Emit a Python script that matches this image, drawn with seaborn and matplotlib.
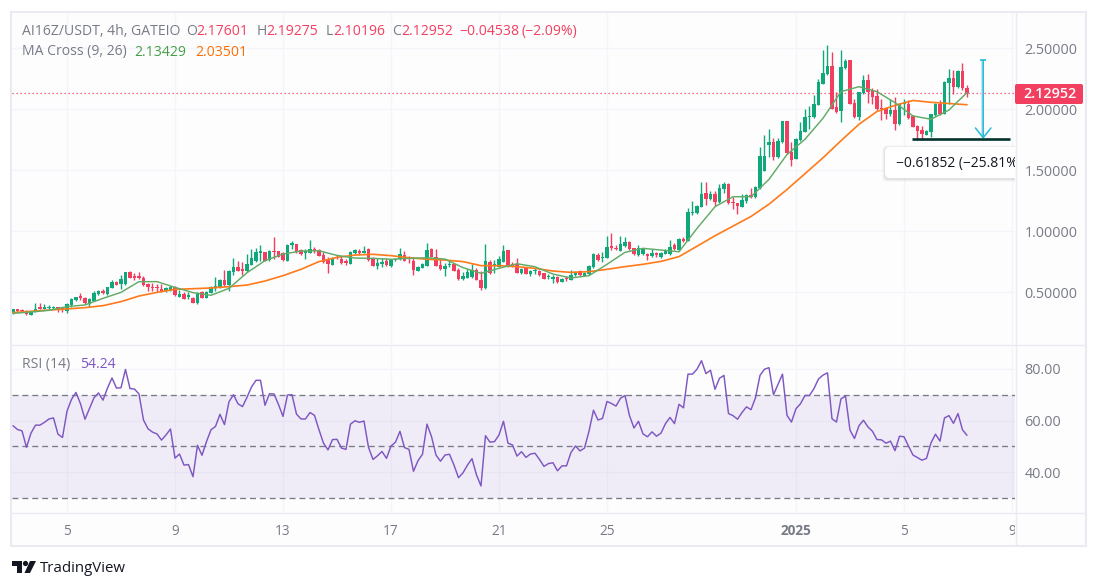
import numpy as np
import pandas as pd
import seaborn as sns
import matplotlib
matplotlib.use("Agg")
import matplotlib.pyplot as plt
from matplotlib.patches import Rectangle, FancyBboxPatch, Circle, Polygon
from matplotlib.transforms import Affine2D, Bbox, TransformedBbox

# ---------- data ----------
opens = [.325,.350,.350,.344,.314,.339,.369,.363,.366,.369,.374,.366,.342,.391,.432,.467,.454,.404,.429,.481,
 .508,.481,.530,.585,.563,.563,.667,.634,.623,.612,.568,.538,.535,.527,.508,.514,.541,.459,.484,.462,
 .454,.407,.497,.451,.492,.541,.535,.598,.557,.664,.705,.680,.672,.724,.751,.822,.825,.762,.836,.833,
 .817,.757,.888,.893,.844,.822,.819,.850,.841,.806,.762,.724,.784,.773,.746,.729,.817,.828,.822,.855,
 .773,.713,.732,.751,.716,.762,.768,.803,.776,.757,.675,.699,.716,.849,.784,.721,.691,.718,.732,.683,
 .604,.617,.623,.680,.598,.530,.748,.710,.707,.748,.844,.727,.729,.656,.697,.650,.672,.672,.653,.620,
 .609,.626,.582,.612,.601,.639,.672,.634,.645,.702,.803,.776,.781,.869,.858,.839,.880,.913,.858,.803,
 .809,.811,.795,.820,.787,.814,.809,.885,.842,.931,.920,1.147,1.144,1.196,1.311,1.259,1.303,1.234,1.344,1.385,
 1.237,1.229,1.196,1.248,1.294,1.278,1.349,1.495,1.707,1.729,1.606,1.729,1.900,1.647,1.589,1.745,1.813,1.933,1.931,2.032,
 2.209,2.285,2.351,2.015,1.980,2.335,2.400,2.051,1.931,2.133,2.236,2.154,2.108,2.002,2.010,1.958,1.993,1.876,2.040,2.040,
 1.941,1.860,1.827,1.791,1.813,1.950,2.037,1.963,2.212,2.255,2.180,2.310,2.17601]
highs = [.361,.361,.361,.353,.339,.413,.413,.404,.391,.385,.377,.377,.413,.454,.462,.495,.456,.448,.505,.514,
 .522,.544,.601,.590,.639,.667,.672,.653,.661,.634,.574,.571,.568,.566,.541,.552,.546,.514,.503,.503,
 .462,.500,.508,.505,.546,.623,.604,.677,.680,.781,.751,.743,.808,.855,.860,.885,.828,.844,.950,.839,
 .828,.896,.918,.896,.852,.849,.926,.871,.849,.830,.784,.784,.803,.798,.770,.833,.849,.852,.880,.863,
 .784,.776,.778,.781,.768,.781,.860,.836,.792,.789,.713,.735,.901,.858,.852,.781,.740,.754,.740,.699,
 .667,.688,.729,.694,.675,.893,.759,.765,.792,.885,.847,.748,.778,.697,.699,.680,.699,.680,.658,.650,
 .639,.628,.612,.634,.677,.675,.677,.667,.719,.820,.822,.830,.956,.981,.885,.959,.954,.918,.861,.885,
 .863,.817,.852,.830,.825,.852,.926,.900,.940,.950,1.188,1.245,1.210,1.401,1.401,1.327,1.327,1.382,1.401,1.390,
 1.275,1.232,1.303,1.303,1.352,1.368,1.688,1.783,1.835,1.759,1.759,1.903,1.903,1.729,1.759,1.892,2.004,2.021,2.113,2.242,
 2.482,2.523,2.468,2.141,2.482,2.408,2.403,2.086,2.143,2.277,2.285,2.173,2.163,2.078,2.018,2.086,2.100,2.051,2.086,2.072,
 1.950,1.865,1.860,1.827,1.963,2.051,2.072,2.228,2.332,2.318,2.318,2.376,2.19275]
lows = [.317,.333,.333,.309,.314,.333,.361,.358,.358,.358,.339,.339,.328,.380,.429,.434,.404,.374,.426,.475,
 .481,.475,.530,.555,.522,.560,.612,.601,.606,.552,.511,.511,.503,.497,.503,.508,.465,.456,.443,.440,
 .410,.402,.448,.448,.489,.511,.533,.552,.511,.639,.672,.639,.667,.718,.746,.757,.754,.757,.768,.784,
 .757,.751,.855,.822,.800,.768,.817,.817,.792,.735,.656,.718,.770,.732,.724,.727,.811,.806,.819,.757,
 .710,.688,.707,.716,.705,.754,.762,.751,.740,.639,.672,.697,.713,.784,.713,.677,.634,.707,.672,.601,
 .601,.612,.617,.596,.516,.527,.647,.653,.705,.743,.705,.705,.656,.650,.645,.634,.645,.634,.606,.609,
 .571,.574,.579,.593,.598,.634,.628,.628,.639,.697,.757,.743,.776,.842,.842,.833,.872,.847,.803,.798,
 .803,.762,.790,.787,.781,.809,.803,.845,.836,.907,.920,1.128,1.139,1.193,1.213,1.253,1.204,1.232,1.308,1.221,
 1.180,1.139,1.193,1.232,1.273,1.273,1.344,1.489,1.608,1.581,1.600,1.718,1.630,1.532,1.587,1.739,1.810,1.840,1.928,2.029,
 2.206,2.280,1.996,1.969,1.895,2.332,2.037,1.925,1.909,2.127,2.051,2.045,1.991,1.914,1.917,1.941,1.827,1.870,1.950,1.922,
 1.849,1.750,1.750,1.786,1.772,1.941,1.950,1.958,2.045,2.122,2.173,2.154,2.10196]
closes = [.361,.345,.344,.320,.339,.361,.363,.369,.372,.372,.353,.361,.402,.445,.459,.448,.410,.443,.489,.508,
 .489,.538,.579,.557,.604,.664,.617,.617,.617,.557,.538,.530,.530,.511,.535,.544,.473,.484,.445,.467,
 .413,.489,.454,.500,.541,.549,.598,.557,.675,.705,.675,.675,.727,.778,.825,.828,.757,.836,.828,.789,
 .762,.888,.893,.828,.811,.830,.852,.833,.795,.746,.729,.778,.776,.738,.740,.828,.844,.822,.833,.762,
 .713,.738,.746,.721,.762,.773,.811,.757,.768,.677,.707,.729,.847,.789,.716,.686,.713,.727,.675,.606,
 .631,.667,.683,.598,.530,.754,.653,.729,.768,.838,.713,.707,.658,.691,.647,.675,.677,.639,.609,.626,
 .615,.579,.606,.606,.642,.667,.639,.658,.713,.809,.762,.781,.869,.863,.852,.891,.907,.852,.809,.863,
 .858,.795,.820,.801,.820,.844,.872,.852,.934,.920,1.155,1.155,1.204,1.303,1.264,1.303,1.240,1.352,1.385,1.226,
 1.229,1.204,1.253,1.294,1.278,1.360,1.614,1.612,1.729,1.606,1.737,1.900,1.636,1.584,1.753,1.816,1.933,1.941,2.040,2.223,
 2.294,2.351,1.999,1.974,2.343,2.392,2.040,1.931,2.138,2.236,2.141,2.100,1.996,1.996,1.958,1.993,1.876,2.045,2.045,1.928,
 1.854,1.821,1.794,1.819,1.958,2.037,1.963,2.223,2.255,2.182,2.310,2.176,2.12952]

# moving averages, read every fourth candle
ma9 = [.325,.336,.35,.38,.394,.448,.497,.585,.585,.538,.495,.473,.53,.658,.757,.811,.836,.838,.80,.778,
 .776,.768,.776,.781,.77,.70,.653,.694,.732,.707,.647,.615,.634,.727,.825,.858,.844,.83,1.021,1.199,
 1.281,1.281,1.423,1.627,1.752,1.924,2.142,2.183,2.142,2.052,1.943,1.916,1.992,2.13429]
ma26 = [.331,.342,.352,.361,.372,.388,.421,.467,.497,.522,.527,.533,.544,.557,.590,.634,.686,.749,.784,.803,
 .809,.798,.781,.768,.762,.749,.716,.716,.708,.694,.672,.661,.667,.686,.708,.727,.751,.790,.875,.961,
 1.04,1.119,1.22,1.34,1.47,1.60,1.74,1.875,1.98,2.03,2.07,2.055,2.045,2.03501]

rsi = [58.0,56.5,56.0,49.6,55.1,58.2,58.2,59.3,60.6,61.0,54.7,53.4,63.6,68.2,70.9,66.5,60.5,64.6,68.8,70.7,
 67.9,72.6,76.5,72.6,72.7,79.8,72.4,72.2,70.3,60.2,56.8,55.5,54.8,52.4,54.4,56.7,45.4,47.0,42.7,42.9,
 38.2,50.4,46.5,51.8,56.4,57.7,62.4,58.4,67.3,70.0,66.5,65.4,69.0,73.0,75.6,75.6,65.9,70.4,70.3,66.2,
 61.6,69.9,70.0,62.5,60.6,60.6,63.1,62.0,56.4,51.2,48.6,52.6,52.7,49.3,48.8,58.6,59.9,59.3,59.8,49.6,
 44.9,46.3,48.0,45.3,50.1,51.6,55.8,49.5,48.8,40.3,44.4,46.9,58.6,53.8,46.6,44.2,46.6,46.9,42.7,37.8,
 39.7,42.7,45.2,38.9,34.6,54.1,51.6,51.8,54.4,59.7,51.2,50.5,46.2,
 47.9,45.7,47.0,47.3,44.9,42.2,43.3,43.6,40.5,42.4,42.4,47.6,50.1,48.2,49.3,55.8,64.0,60.2,60.8,67.4,
 66.6,65.6,68.6,69.7,61.9,57.1,59.7,54.8,53.7,55.6,53.9,55.1,58.8,61.2,58.8,66.3,64.9,78.0,78.0,79.9,
 83.2,78.2,79.5,72.1,76.4,77.5,62.7,61.9,60.5,63.1,65.3,64.2,68.8,77.5,79.9,80.5,70.0,74.0,78.0,62.0,
 59.4,64.6,66.5,69.7,69.7,72.4,76.1,77.6,78.5,60.7,59.4,68.4,69.5,56.3,53.0,58.0,60.1,57.5,55.8,52.6,
 52.5,51.2,52.0,48.3,53.9,53.7,50.1,46.6,45.6,44.6,45.3,51.3,54.7,52.0,61.0,61.9,58.9,62.7,56.4,54.24]

price_ticks = [0.5, 1.0, 1.5, 2.0, 2.5]
rsi_ticks = [40, 60, 80]
rsi_levels = [30, 50, 70]
date_ticks = [12, 36, 60, 84, 108, 132, 174, 198, 222]
date_labels = ["5", "9", "13", "17", "21", "25", "2025", "5", "9"]
last_close = 2.12952
measure_top, measure_bottom, measure_base = 2.40, 1.775, 1.758
measure_x, base_left, base_right = 215.6, 199.8, 221.5

# ---------- style ----------
GREEN, RED = "#10a87a", "#f23f5f"
GRAY, PURPLE = "#787b86", "#7e57c2"
MA_G, MA_O = "#62ab66", "#ff7a1a"
BG, GRID, EDGE = "#fdfdfe", "#f4f5f9", "#e9eaf2"
sns.set_theme(style="white")
plt.rcParams["font.family"] = ["Open Sans", "DejaVu Sans"]

W, H = 1099, 588
fig = plt.figure(figsize=(W / 100, H / 100), dpi=100, facecolor="white")
PX = Affine2D().scale(1, -1).translate(0, H)

def pane(x0, y0, x1, y1):
    a = fig.add_axes([x0 / W, 1 - y1 / H, (x1 - x0) / W, (y1 - y0) / H], facecolor=BG)
    for s in a.spines.values():
        s.set_visible(False)
    return a

fig.add_artist(Rectangle((11, 12), 1075, 534, transform=PX, fc=BG, ec=EDGE, lw=1.5, zorder=-1))
ax = pane(12, 13, 1015, 344)
ax2 = pane(12, 345, 1015, 512)
XLIM = (-0.22, 222.67)

# ---------- candles ----------
df = pd.DataFrame({"i": np.arange(len(closes)), "o": opens, "h": highs, "l": lows, "c": closes})
colors = np.where(df.c >= df.o, GREEN, RED)
ax.vlines(df.i, df.l, df.h, colors=colors, lw=1.0, zorder=3)
ax.bar(df.i, (df.c - df.o).abs().clip(lower=0.012), bottom=df[["o", "c"]].min(axis=1),
       width=0.8, color=colors, lw=0, zorder=3)

# ---------- moving averages ----------
ma_x = np.arange(0, len(closes), 4)
sns.lineplot(x=ma_x, y=ma26, ax=ax, color=MA_O, lw=1.2, zorder=4)
sns.lineplot(x=ma_x, y=ma9, ax=ax, color=MA_G, lw=1.05, zorder=4)
ax.axhline(last_close, color=RED, lw=0.9, ls=(0, (1, 2.2)), zorder=2)

# ---------- measure drawing ----------
ax.fill_betweenx([measure_bottom, measure_top], measure_x - 0.55, measure_x + 0.1, color="#cfe0f5", lw=0, zorder=4)
ax.annotate("", xy=(measure_x, measure_bottom - 0.02), xytext=(measure_x, measure_top),
            arrowprops=dict(arrowstyle="->,head_length=0.5,head_width=0.4", color="#22bcd8", lw=1.1,
                            mutation_scale=14, shrinkA=0, shrinkB=0), zorder=5)
ax.hlines(measure_top, measure_x - 0.6, measure_x + 0.6, color="#22bcd8", lw=1.2, zorder=5)
ax.hlines(measure_base, base_left, base_right, color="#00332b", lw=1.9, zorder=5)

# tooltip, clipped by the price axis like the original
for off, al in ((3, .02), (2, .035), (1, .05)):
    ax.add_patch(FancyBboxPatch((885 - off, 147 - off + 1), 150 + 2 * off, 31 + 2 * off,
                 boxstyle="round,pad=0,rounding_size=5", transform=PX, fc="black", alpha=al, lw=0, zorder=6, clip_on=True))
ax.add_patch(FancyBboxPatch((885, 147), 150, 31, boxstyle="round,pad=0,rounding_size=5",
             transform=PX, fc="white", lw=0, zorder=7, clip_on=True))
ax.text(896, 163.5, "\u22120.61852 (\u221225.81%)", transform=PX, fontsize=10, color="#131722",
        va="center", ha="left", zorder=8, clip_on=True)

# ---------- RSI ----------
ax2.axhspan(rsi_levels[0], rsi_levels[2], color=PURPLE, alpha=0.1, lw=0, zorder=1)
for lv in rsi_levels:
    ax2.axhline(lv, color=GRAY, lw=0.95, ls=(0, (4.5, 3)), zorder=2)
rsi_x = np.arange(len(closes) - len(rsi), len(closes))
sns.lineplot(x=rsi_x, y=rsi, ax=ax2, color=PURPLE, lw=1.05, zorder=3)

# ---------- axes ----------
ax.set_xlim(*XLIM); ax.set_ylim(0.0738, 2.787)
ax2.set_xlim(*XLIM); ax2.set_ylim(24.5, 89.3)
for a, ticks, fmt in ((ax, price_ticks, "{:.5f}"), (ax2, rsi_ticks, "{:.2f}")):
    a.yaxis.tick_right()
    a.set_yticks(ticks, [fmt.format(t) for t in ticks])
    a.tick_params(axis="y", length=0, pad=6.9, labelsize=10.4, labelcolor=GRAY)
    a.set_xticks(date_ticks)
    a.grid(True, color=GRID, lw=0.9, zorder=0)
    a.set_axisbelow(True)
    for lbl in a.get_yticklabels():
        lbl.set_va("center_baseline")
ax.tick_params(axis="x", length=0, labelbottom=False)
ax2.set_xticklabels(date_labels)
ax2.tick_params(axis="x", length=0, pad=8.5, labelsize=9.8, labelcolor=GRAY)
ax2.get_xticklabels()[6].set_fontweight("bold")
clip = TransformedBbox(Bbox([[0, 0], [1015, H]]), Affine2D())
ax2.get_xticklabels()[-1].set_clip_box(clip)
ax2.get_xticklabels()[-1].set_clip_on(True)

# separators
for x0, y0, x1, y1 in ((12, 344.5, 1086, 344.5), (12, 512.5, 1086, 512.5), (1015.5, 13, 1015.5, 545)):
    fig.add_artist(plt.Line2D([x0, x1], [y0, y1], transform=PX, color=EDGE, lw=1, zorder=0.5))

# ---------- texts ----------
def T(x, y, s, color=GRAY, **kw):
    kw.setdefault("fontsize", 10.1)
    fig.text(x, y, s, transform=PX, color=color, va="center", ha="left", **kw)

T(22, 31.5, "AI16Z/USDT, 4h, GATEIO")
for x, s, c in ((186, "O", GRAY), (196, "2.17601", RED), (257, "H", GRAY), (266, "2.19275", RED),
                (326, "L", GRAY), (333, "2.10196", RED), (392, "C", GRAY), (401, "2.12952", RED),
                (459, "\u22120.04538", RED), (521, "(\u22122.09%)", RED)):
    T(x, 31.5, s, c)
T(22, 52, "MA Cross (9, 26)")
T(134, 52, "2.13429", "#43a047")
T(195, 52, "2.03501", "#ff6d00")
T(22, 364.5, "RSI (14)")
T(80, 364.5, "54.24", PURPLE)

# last price label
fig.add_artist(FancyBboxPatch((1015, 84), 68, 20, boxstyle="round,pad=0,rounding_size=2",
                              transform=PX, fc=RED, lw=0, zorder=5))
fig.text(1049.5, 94.5, f"{last_close:.5f}", transform=PX, color="white", fontsize=10.4,
         fontweight="semibold", va="center", ha="center", zorder=6)

# TradingView mark
for p in (Polygon([(12, 561), (22, 561), (22, 573), (17, 573), (17, 566), (12, 566)], transform=PX, fc="#131722", lw=0),
          Circle((25.5, 563.5), 2.6, transform=PX, fc="#131722", lw=0),
          Polygon([(30, 561), (36, 561), (30, 573), (24.5, 573)], transform=PX, fc="#131722", lw=0)):
    fig.add_artist(p)
fig.text(40, 568, "TradingView", transform=PX, color="#131722", fontsize=10.8, va="center", ha="left")

fig.savefig("out.png", dpi=100)
print(len(opens), len(highs), len(lows), len(closes), len(rsi), len(ma9), len(ma26))
